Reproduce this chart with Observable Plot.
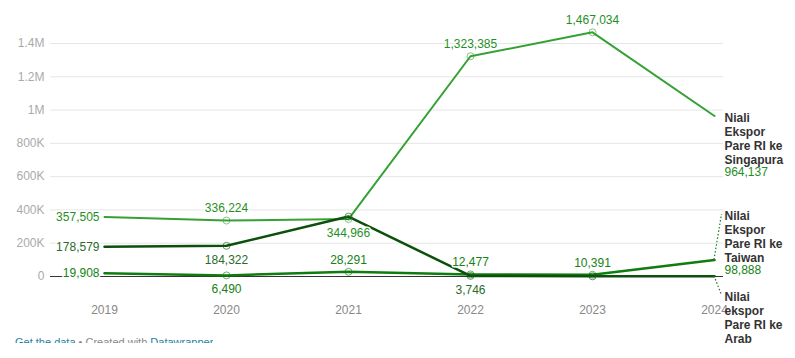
<!DOCTYPE html>
<html><head><meta charset="utf-8">
<script src="https://cdn.jsdelivr.net/npm/d3@7"></script>
<script src="https://cdn.jsdelivr.net/npm/@observablehq/plot@0.6"></script>
<style>
body{margin:0;background:#fff;font-family:"Liberation Sans",Arial,sans-serif;}
#chart{position:relative;width:795px;height:358px;overflow:hidden}
#footer{position:absolute;left:15px;top:336px;height:7px;overflow:hidden;font-size:11px;line-height:13px;color:#888;white-space:nowrap}
#footer span.l{color:#1d81a2}
</style></head><body>
<div id="chart"><div id="footer"><span class="l">Get the data</span> • Created with <span class="l">Datawrapper</span></div></div>
<script>
// ---- data ----
const years = [2019, 2020, 2021, 2022, 2023, 2024];
const singapura = [357505, 336224, 344966, 1323385, 1467034, 964137];
const taiwan = [19908, 6490, 28291, 12477, 10391, 98888];
const arab = [178579, 184322, 360000, 3746, 1000, 1000];
const seriesNames = [
  "Niali\nEkspor\nPare RI ke\nSingapura",
  "Nilai\nEkspor\nPare RI ke\nTaiwan",
  "Nilai\nekspor\nPare RI ke\nArab"
];
const showValueAtEnd = [true, true, false];
const yTicks = [0, 200000, 400000, 600000, 800000, 1000000, 1200000, 1400000];
const yTickLabels = ["0", "200K", "400K", "600K", "800K", "1M", "1.2M", "1.4M"];
// label placement for each point
const singapuraLabels = ["left", "above", "below", "above", "above", "end"];
const taiwanLabels = ["left", "below", "above", "above", "above", "end"];
const arabLabels = ["left", "below", "none", "below", "none", "none"];

// ---- styles ----
const styles = [
  {line: "#35a135", label: "#1f901f", width: 2, endDy: 0},
  {line: "#0f7c0f", label: "#148214", width: 2.5, endDy: -45.5},
  {line: "#0b500b", label: "#2b6b2b", width: 2.5, endDy: 19}
];

const allSeries = [singapura, taiwan, arab];
const allLabels = [singapuraLabels, taiwanLabels, arabLabels];
const rows = [];
allSeries.forEach((vals, s) => vals.forEach((v, i) =>
  rows.push({s, year: years[i], value: v, pos: allLabels[s][i]})));

const fmt = d3.format(",");
const marks = [
  Plot.ruleY(yTicks.filter(d => d > 0), {stroke: "#e6e6e6", strokeWidth: 1}),
  Plot.ruleY([0], {stroke: "#333", strokeWidth: 1}),
  Plot.axisY(yTicks, {tickSize: 0, tickPadding: 6, fill: "#aaa", fontSize: 12,
    tickFormat: d => yTickLabels[yTicks.indexOf(d)], label: null}),
  Plot.axisX(years, {tickSize: 0, tickPadding: 29, fill: "#888", fontSize: 12,
    tickFormat: d => String(d), label: null})
];
styles.forEach((st, s) => {
  const data = rows.filter(d => d.s === s);
  marks.push(Plot.line(data, {x: "year", y: "value", stroke: st.line, strokeWidth: st.width, strokeLinejoin: "round"}));
});
styles.forEach((st, s) => {
  const data = rows.filter(d => d.s === s && d.year > 2019 && d.year < 2024);
  marks.push(Plot.dot(data, {x: "year", y: "value", r: 3.5, stroke: st.line, strokeOpacity: 0.6, strokeWidth: 1, fill: "none"}));
});
styles.forEach((st, s) => {
  const common = {x: "year", y: "value", text: d => fmt(d.value), fill: st.label, stroke: "white", strokeWidth: 3, fontSize: 12};
  const data = rows.filter(d => d.s === s);
  marks.push(Plot.text(data.filter(d => d.pos === "left"), {...common, textAnchor: "end", dx: -5}));
  marks.push(Plot.text(data.filter(d => d.pos === "above"), {...common, dy: -12}));
  marks.push(Plot.text(data.filter(d => d.pos === "below"), {...common, dy: 14}));
  const end = data.filter(d => d.year === 2024);
  marks.push(Plot.text(end, {x: "year", y: "value", text: () => seriesNames[s], dx: 10, dy: st.endDy - 4.3,
    lineAnchor: "top", lineHeight: 14 / 12, textAnchor: "start", fill: "#333", fontWeight: "bold", fontSize: 12}));
  if (showValueAtEnd[s]) {
    marks.push(Plot.text(end, {x: "year", y: "value", text: d => fmt(d.value), dx: 10, dy: st.endDy + 56,
      textAnchor: "start", fill: st.label, fontSize: 12}));
  }
});

const plot = Plot.plot({
  width: 795, height: 358,
  marginLeft: 50, marginRight: 72, marginTop: 43, marginBottom: 82,
  x: {type: "linear", domain: [2019, 2024], range: [104, 714]},
  y: {domain: [0, 1400000], range: [276, 43]},
  style: {fontFamily: "'Liberation Sans', Arial, sans-serif", fontSize: "12px", background: "white", overflow: "visible"},
  marks
});

// dotted connectors to moved end labels, via the plot's own scales
const xs = plot.scale("x"), ys = plot.scale("y");
const g = d3.select(plot).append("g");
styles.forEach((st, s) => {
  if (st.endDy === 0) return;
  const v = allSeries[s][years.length - 1];
  const x0 = xs.apply(2024), y0 = ys.apply(v);
  g.append("line").attr("x1", x0).attr("y1", y0).attr("x2", x0 + 7.5).attr("y2", y0 + st.endDy)
    .attr("stroke", st.label).attr("stroke-width", 1.2).attr("stroke-dasharray", "1.5,2");
});
document.getElementById("chart").prepend(plot);
</script>
</body></html>
